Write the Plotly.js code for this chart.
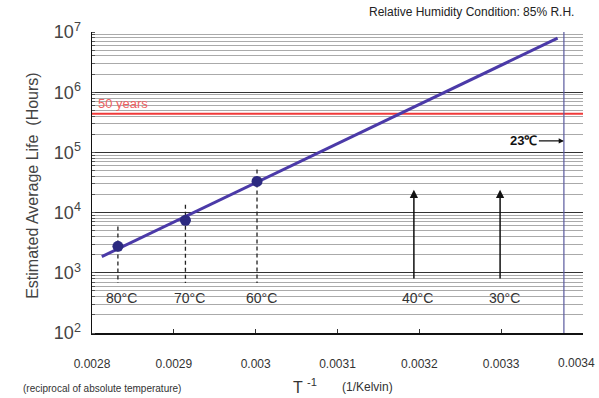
<!DOCTYPE html>
<html>
<head>
<meta charset="utf-8">
<script src="https://cdn.plot.ly/plotly-3.0.1.min.js"></script>
<style>html,body{margin:0;padding:0;background:#fff;}#chart{width:599px;height:398px;}</style>
</head>
<body>
<div id="chart"></div>
<script>
// ---- data ----
var fitX = [0.002812, 0.003369];          // 1/K
var fitY = [1860, 7.9e6];                  // hours
var testTemps = [80, 70, 60];              // °C (measured points)
var testLife = [2750, 7450, 33000];        // hours
var dashTop = [5900, 13500, 52000];        // upper end of dashed guides (hours)
var dashBottom = 680;
var arrowTemps = [40, 30];                 // °C arrows
var arrowTip = 24000, arrowTail = 760;
var refTemp = 23;                          // °C vertical reference
var fiftyYears = 438000;                   // hours (50 years)
var yTickVals = [1e2, 1e3, 1e4, 1e5, 1e6, 1e7];
var yTickText = ['10<sup>2</sup>', '10<sup>3</sup>', '10<sup>4</sup>', '10<sup>5</sup>', '10<sup>6</sup>', '10<sup>7</sup>'];
var xTickVals = [0.0028, 0.0029, 0.003, 0.0031, 0.0032, 0.0033, 0.0034];
var xTickText = ['0.0028', '0.0029', '0.003', '0.0031', '0.0032', '0.0033', '0.0034'];
var xRange = [0.0028, 0.0034];
var labelY = 380;                          // hours level of °C labels

function inv(t) { return 1 / (t + 273.15); }
var testX = testTemps.map(inv);
var L10 = Math.log10;
var font = 'Liberation Sans, Arial, sans-serif';

var traces = [];
// dashed guides
testX.forEach(function (x, i) {
  traces.push({x: [x, x], y: [dashTop[i], dashBottom], mode: 'lines',
    line: {color: '#222', width: 1.3, dash: '4px,3px'}, hoverinfo: 'skip', showlegend: false});
});
// 50 year line
traces.push({x: xRange, y: [fiftyYears, fiftyYears], mode: 'lines',
  line: {color: '#f03a3a', width: 2}, showlegend: false});
// 23°C vertical
traces.push({x: [inv(refTemp), inv(refTemp)], y: [yTickVals[0], yTickVals[yTickVals.length - 1]], mode: 'lines',
  line: {color: '#5a5a9e', width: 1.2}, showlegend: false});
// fit line
traces.push({x: fitX, y: fitY, mode: 'lines', line: {color: '#4b3aa8', width: 3}, showlegend: false});
// points
traces.push({x: testX, y: testLife, mode: 'markers',
  marker: {color: '#2c2a80', size: 11}, showlegend: false});

var ann = [];
testTemps.forEach(function (t, i) {
  ann.push({x: testX[i], y: L10(labelY), xref: 'x', yref: 'y', text: t + '°C', showarrow: false,
    xshift: 4, font: {family: font, size: 14, color: '#333'}});
});
arrowTemps.forEach(function (t) {
  var x = inv(t);
  ann.push({x: x, y: L10(arrowTip), ax: x, ay: L10(arrowTail), xref: 'x', yref: 'y', axref: 'x', ayref: 'y',
    text: '', showarrow: true, arrowhead: 2, arrowsize: 1.1, arrowwidth: 1.5, arrowcolor: '#111'});
  ann.push({x: x, y: L10(labelY), xref: 'x', yref: 'y', text: t + '°C', showarrow: false,
    xshift: 4, font: {family: font, size: 14, color: '#333'}});
});
ann.push({x: inv(refTemp), y: 5.19, xref: 'x', yref: 'y', ax: -40, ay: 0, text: '<b>23℃</b>',
  showarrow: true, arrowhead: 2, arrowsize: 0.8, arrowwidth: 1.3, arrowcolor: '#111',
  font: {family: font, size: 13, color: '#111'}});
ann.push({x: xRange[0], y: L10(fiftyYears), xref: 'x', yref: 'y', text: '50 years', showarrow: false,
  xanchor: 'left', yanchor: 'bottom', xshift: 4, yshift: 1, font: {family: font, size: 13, color: '#f06262'}});
ann.push({x: 0.985, y: 1.035, xref: 'paper', yref: 'paper', xanchor: 'right', yanchor: 'bottom',
  text: 'Relative Humidity Condition: 85% R.H.', showarrow: false, font: {family: font, size: 12, color: '#222'}});
ann.push({x: -0.143, y: 0.49, xref: 'paper', yref: 'paper', textangle: -90, showarrow: false,
  text: 'Estimated Average Life  (Hours)', font: {family: font, size: 16, color: '#444'}});
ann.push({x: 0.405, y: -0.175, xref: 'paper', yref: 'paper', xanchor: 'left', yanchor: 'middle', showarrow: false,
  text: 'T <sup>-1</sup>', font: {family: font, size: 16, color: '#333'}});
ann.push({x: 0.505, y: -0.18, xref: 'paper', yref: 'paper', xanchor: 'left', yanchor: 'middle', showarrow: false,
  text: '(1/Kelvin)', font: {family: font, size: 12, color: '#333'}});
ann.push({x: -0.145, y: -0.185, xref: 'paper', yref: 'paper', xanchor: 'left', yanchor: 'middle', showarrow: false,
  text: '(reciprocal of absolute temperature)', font: {family: font, size: 10, color: '#333'}});
// last x tick label, kept inside the page edge
var lastTick = xTickText[xTickText.length - 1];
var shownTickText = xTickText.slice(0, -1).concat(['']);
ann.push({x: 1.0285, y: -0.1, xref: 'paper', yref: 'paper', xanchor: 'right', yanchor: 'middle', showarrow: false,
  text: lastTick, font: {family: font, size: 12, color: '#333'}});

var layout = {
  width: 599, height: 398,
  margin: {l: 92, r: 16, t: 32, b: 65},
  paper_bgcolor: '#fff', plot_bgcolor: '#fff',
  xaxis: {range: [0.0028, 0.00340001], tickmode: 'array', tickvals: xTickVals, ticktext: shownTickText,
    showgrid: false, zeroline: false,
    ticks: 'inside', ticklen: 4, tickcolor: '#333', showline: true, linecolor: '#111', linewidth: 1.5,
    ticklabelstandoff: 19, tickfont: {family: font, size: 12, color: '#333'}},
  yaxis: {type: 'log', range: [2, 7], tickmode: 'array', tickvals: yTickVals, ticktext: yTickText,
    showgrid: true, gridcolor: '#333', gridwidth: 1.2, zeroline: false,
    showline: true, linecolor: '#111', linewidth: 1.5, ticks: '',
    ticklabelstandoff: 6, tickfont: {family: font, size: 18, color: '#444'},
    minor: {dtick: 'D1', showgrid: true, gridcolor: '#aaa', gridwidth: 1, ticks: 'inside', ticklen: 3, tickcolor: '#555'}},
  annotations: ann,
  showlegend: false
};
Plotly.newPlot('chart', traces, layout, {staticPlot: true, displayModeBar: false});
</script>
</body>
</html>
